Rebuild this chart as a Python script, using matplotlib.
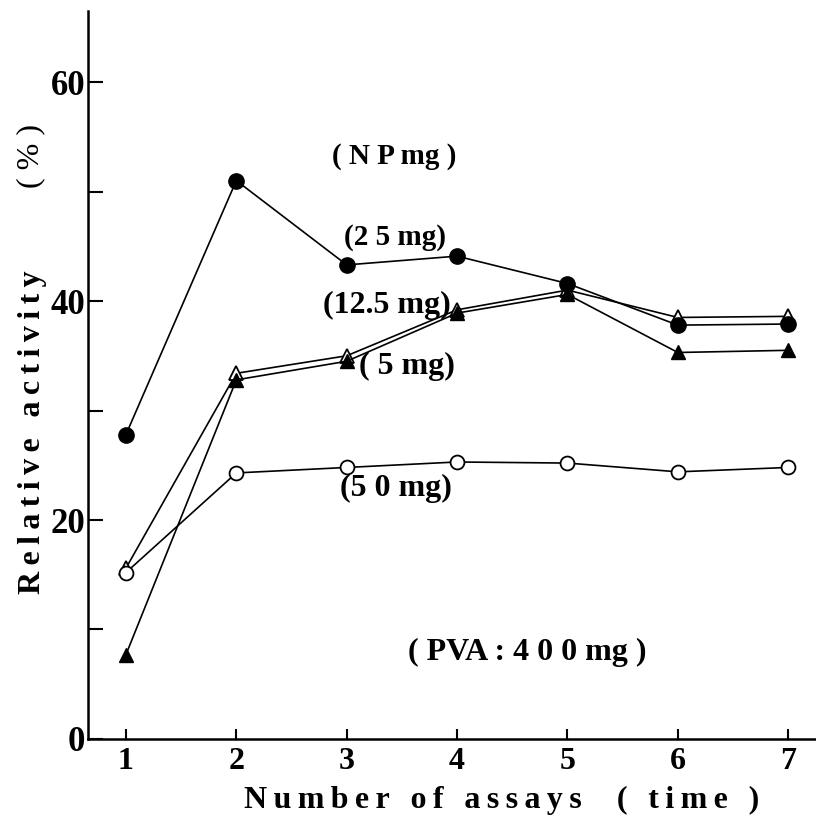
import matplotlib.pyplot as plt
import matplotlib.ticker as mticker

# data
assays = [1, 2, 3, 4, 5, 6, 7]
np_25mg = [27.8, 51.0, 43.3, 44.1, 41.6, 37.8, 37.9]
np_12_5mg = [15.6, 33.4, 35.0, 39.2, 41.0, 38.5, 38.6]
np_5mg = [7.7, 32.8, 34.5, 38.9, 40.6, 35.3, 35.5]
np_50mg = [15.2, 24.3, 24.8, 25.3, 25.2, 24.4, 24.8]

y_major = [0, 20, 40, 60]
y_minor = [10, 30, 50]

plt.rcParams['font.family'] = ['Liberation Serif', 'DejaVu Serif']

THIN = '\u2009'


def spread(s):
    # old typeset figures use wide letter spacing
    return THIN.join(s)


fig = plt.figure(figsize=(8.16, 8.19), dpi=100)
ax = fig.add_axes([0.1078, 0.0977, 0.892, 0.889])

ax.plot(assays, np_25mg, color='black', lw=1.2, marker='o', ms=11,
        mfc='black', mec='black', zorder=4)
ax.plot(assays, np_12_5mg, color='black', lw=1.2, marker='^', ms=10,
        mfc='white', mec='black', mew=1.3, zorder=3)
ax.plot(assays, np_5mg, color='black', lw=1.2, marker='^', ms=10,
        mfc='black', mec='black', zorder=3)
ax.plot(assays, np_50mg, color='black', lw=1.2, marker='o', ms=10,
        mfc='white', mec='black', mew=1.3, zorder=3)

ax.set_xlim(0.656, 7.25)
ax.set_ylim(0, 66.5)

for s in ['top', 'right']:
    ax.spines[s].set_visible(False)
for s in ['left', 'bottom']:
    ax.spines[s].set_linewidth(1.8)

ax.set_xticks(assays)
ax.set_yticks(y_major)
ax.yaxis.set_minor_locator(mticker.FixedLocator(y_minor))
ax.tick_params(axis='y', which='both', direction='in', length=11, width=1.5,
               pad=2, labelsize=25)
ax.tick_params(axis='x', direction='in', length=7, width=1.5, pad=6,
               labelsize=23)
for lab in ax.get_xticklabels() + ax.get_yticklabels():
    lab.set_fontweight('bold')

fig.text(0.615, 0.023, spread('Number of assays  ( time )'), ha='center',
         va='center', fontsize=23, fontweight='bold')
fig.text(0.040, 0.472, spread('Relative activity'), ha='center', va='center',
         rotation=90, fontsize=23, fontweight='bold')
fig.text(0.038, 0.81, '( % )', ha='center', va='center', rotation=90,
         fontsize=23)

labels = [
    ('( N P mg )', 3.43, 53.2, 21),
    ('(2 5 mg)', 3.44, 45.8, 21),
    ('(12.5 mg)', 3.36, 39.6, 23),
    ('( 5 mg)', 3.55, 34.0, 23),
    ('(5 0 mg)', 3.45, 22.9, 23),
    ('( PVA : 4 0 0 mg )', 4.64, 7.9, 23),
]
for txt, x, y, fs in labels:
    ax.text(x, y, txt, ha='center', va='center', fontsize=fs,
            fontweight='bold')

fig.savefig('out.png', dpi=100)
